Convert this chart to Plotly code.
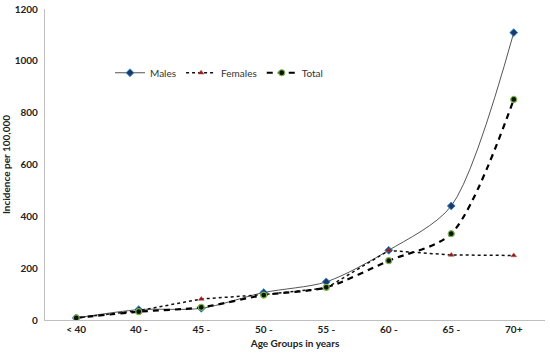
import plotly.graph_objects as go

categories = ["< 40", "40 -", "45 -", "50 -", "55 -", "60 -", "65 -", "70+"]
males = [8, 40, 45, 106, 147, 269, 440, 1109]
females = [8, 36, 81, 98, 123, 268, 251, 249]
total = [8, 32, 49, 96, 126, 229, 333, 851]
y_ticks = [0, 200, 400, 600, 800, 1000, 1200]

font_family = "Lato, 'Open Sans', sans-serif"

fig = go.Figure()
fig.add_trace(go.Scatter(
    x=categories, y=males, name="Males", mode="lines+markers",
    line=dict(color="#555555", width=1, shape="spline", smoothing=0.8),
    marker=dict(symbol="diamond", size=6, color="#1f3864", line=dict(color="#2e8bd8", width=1)),
))
fig.add_trace(go.Scatter(
    x=categories, y=females, name="Females", mode="lines+markers",
    line=dict(color="#111111", width=1.5, dash="dot"),
    marker=dict(symbol="triangle-up", size=5, color="#8b1a1a", line=dict(color="#c0504d", width=0.6)),
))
fig.add_trace(go.Scatter(
    x=categories, y=total, name="Total", mode="lines+markers",
    line=dict(color="#000000", width=2.2, dash="6px,5px", shape="spline", smoothing=0.8),
    marker=dict(symbol="circle", size=6, color="#111111", line=dict(color="#7ab648", width=1.2)),
))

fig.update_layout(
    width=550, height=357,
    margin=dict(l=45, r=5, t=9, b=37),
    paper_bgcolor="white", plot_bgcolor="white",
    font=dict(family=font_family, size=10, color="#222222"),
    showlegend=True,
    legend=dict(orientation="h", x=0.13, y=0.795, xanchor="left", yanchor="middle",
                bgcolor="rgba(0,0,0,0)", font=dict(size=10, color="#333333"),
                itemwidth=30, tracegroupgap=0),
    xaxis=dict(
        type="category", range=[-0.5, 7.5], showgrid=False, zeroline=False, automargin=False,
        showline=True, linecolor="#bfbfbf", linewidth=1.2, ticks="",
        tickfont=dict(size=10, color="#222222", weight="bold"),
        title=dict(text="<b>Age Groups in years</b>", font=dict(size=10, color="#222222"), standoff=5),
    ),
    yaxis=dict(
        range=[0, 1200], tickvals=y_ticks, showgrid=False, zeroline=False, automargin=False,
        showline=True, linecolor="#bfbfbf", linewidth=1.2, ticks="",
        tickfont=dict(size=10, color="#222222", weight="bold"), ticklabelstandoff=4,
        title=dict(text="<b>Incidence per 100,000</b>", font=dict(size=10, color="#222222"), standoff=4),
    ),
)

fig.write_html("out.html", config={"displayModeBar": False},
               post_script="document.body.style.margin='0';document.body.style.overflow='hidden';")
